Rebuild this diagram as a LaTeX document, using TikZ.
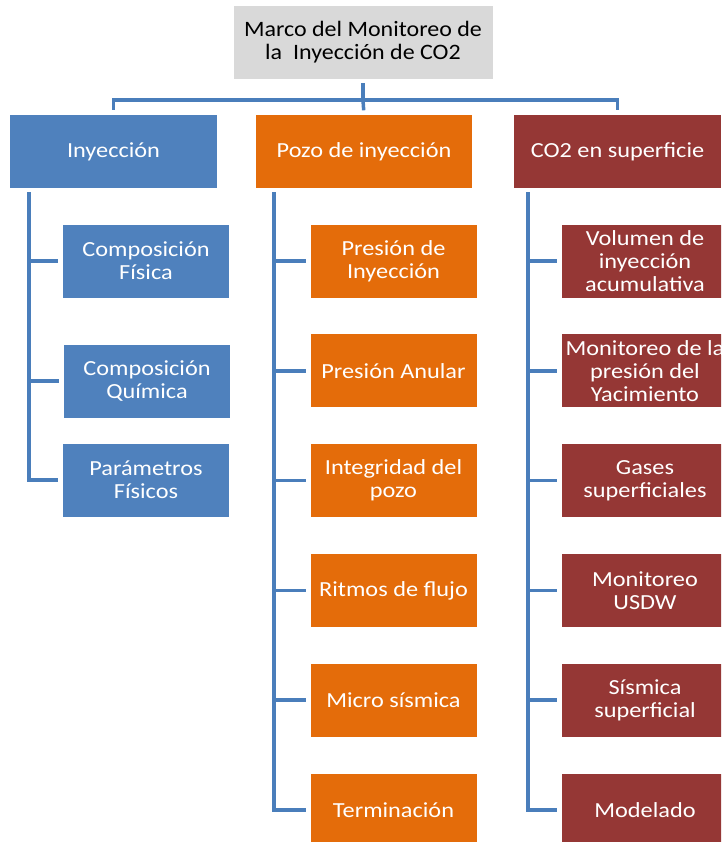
\documentclass[tikz,border=0pt]{standalone}
\usepackage{fontspec}
\setmainfont{Carlito}
\newfontfamily\boxfont[FakeStretch=1.13]{Carlito}
\newfontfamily\topfont[FakeStretch=1.09]{Carlito}
\usetikzlibrary{positioning}
\definecolor{boxgrey}{HTML}{D9D9D9}
\definecolor{boxblue}{HTML}{4F81BD}
\definecolor{boxorange}{HTML}{E46C0A}
\definecolor{boxred}{HTML}{953735}
\definecolor{linkblue}{HTML}{4A7EBB}

\begin{document}
\begin{tikzpicture}[x=1pt, y=-1pt,
		box/.style={shape=rectangle, minimum width=166pt, minimum height=73pt, inner sep=2pt, align=center, text=white, font=\boxfont\fontsize{21.5}{23}\selectfont},
		head/.style={box, minimum width=207pt},
		link/.style={draw=linkblue, line width=3.5pt, shorten <=4pt, shorten >=4.5pt}]
			\useasboundingbox (0,0) rectangle (721,842);
			\clip (0,0) rectangle (721,842);
			% Paths, nodes and wires:
			\node[shape=rectangle, fill=boxgrey, minimum width=259pt, minimum height=73pt, align=center, font=\topfont\fontsize{22}{23}\selectfont] (top) at (363, 42.5){Marco del Monitoreo de\\la\ \ Inyección de CO2};
			\node[head, fill=boxblue] (iny) at (113.5, 151.5){Inyección};
			\node[head, fill=boxorange, minimum width=216pt] (pozo) at (364, 151.5){Pozo de inyección};
			\node[head, fill=boxred] (sup) at (617.5, 151.5){CO2 en superficie};

			\node[box, fill=boxblue] (cf) at (146, 261){Composición\\Física};
			\node[box, fill=boxblue] (cq) at (147, 381){Composición\\Química};
			\node[box, fill=boxblue] (pf) at (146, 480){Parámetros\\Físicos};

			\node[box, fill=boxorange] (pi) at (393.5, 261){Presión de\\Inyección};
			\node[box, fill=boxorange, below=36.4pt of pi] (pa){Presión Anular};
			\node[box, fill=boxorange, below=36.4pt of pa] (ip){Integridad del\\pozo};
			\node[box, fill=boxorange, below=36.4pt of ip] (rf){Ritmos de flujo};
			\node[box, fill=boxorange, below=36.4pt of rf] (ms){Micro sísmica};
			\node[box, fill=boxorange, below=36.4pt of ms] (te){Terminación};

			\node[box, fill=boxred] (vi) at (645, 261){Volumen de\\inyección\\acumulativa};
			\node[box, fill=boxred, below=36.4pt of vi] (mp){Monitoreo de la\\presión del\\Yacimiento};
			\node[box, fill=boxred, below=36.4pt of mp] (gs){Gases\\superficiales};
			\node[box, fill=boxred, below=36.4pt of gs] (mu){Monitoreo\\USDW};
			\node[box, fill=boxred, below=36.4pt of mu] (ss){Sísmica\\superficial};
			\node[box, fill=boxred, below=36.4pt of ss] (mo){Modelado};

			\draw[link, shorten >=0pt] (top.south) -- ++(0,21) coordinate (hub);
			\draw[link, shorten <=0pt] (hub) -| (iny.north);
			\draw[link, shorten <=0pt] (hub) -- (pozo.north);
			\draw[link, shorten <=0pt] (hub) -| (sup.north);

			\foreach \child in {cf, cq, pf}
				\draw[link] ([xshift=19pt]iny.south west) |- (\child.west);
			\foreach \child in {pi, pa, ip, rf, ms, te}
				\draw[link] ([xshift=18pt]pozo.south west) |- (\child.west);
			\foreach \child in {vi, mp, gs, mu, ss, mo}
				\draw[link] ([xshift=14pt]sup.south west) |- (\child.west);
		\end{tikzpicture}
\end{document}
